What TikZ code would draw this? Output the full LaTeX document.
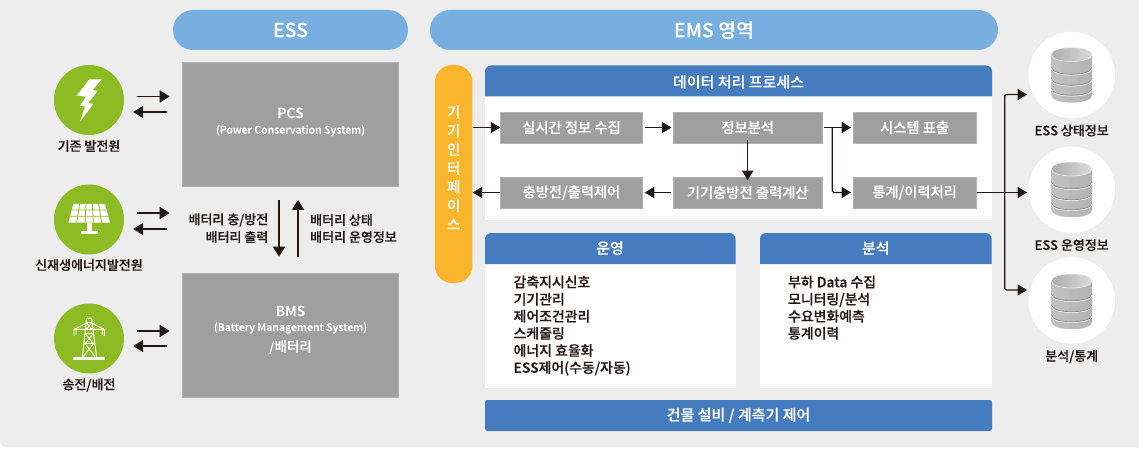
\documentclass[tikz,border=0pt]{standalone}
\usepackage{fontspec}
\setmainfont[FakeBold=0.3]{Noto Sans CJK KR Medium}
\usetikzlibrary{arrows.meta,calc}
\definecolor{pagebg}{HTML}{EDEDED}
\definecolor{pill}{HTML}{76AFE0}
\definecolor{hdr}{HTML}{457BBF}
\definecolor{orangebar}{HTML}{F9B52B}
\definecolor{boxgray}{HTML}{9E9F9E}
\definecolor{green}{HTML}{8CBB24}
\definecolor{ink}{HTML}{231815}
\tikzset{
  txt/.style={inner sep=0pt,font=\fontsize{#1}{#1}\selectfont},
  pillbox/.style={fill=pill,rounded corners=20pt,minimum height=40pt,inner sep=0pt,text=white,font=\fontsize{19.5}{22}\selectfont},
  bigbox/.style={fill=boxgray,draw=boxgray!80!white,line width=.6pt,minimum width=216pt,minimum height=124pt,inner sep=0pt},
  graybox/.style={fill=boxgray,draw=boxgray!80!white,line width=.5pt,minimum height=31pt,inner sep=0pt,text=white,font=\fontsize{14.3}{16}\selectfont},
  gencircle/.style={circle,fill=green,minimum size=70pt,inner sep=0pt},
  dbcircle/.style={circle,fill=white,minimum size=86.5pt,inner sep=0pt},
  hdrtext/.style={inner sep=0pt,text=white,font=\fontsize{15}{17}\selectfont},
  listtext/.style={inner sep=0pt,anchor=north west,align=left,text=ink,font=\fontsize{13.9}{17.1}\selectfont},
  arr/.style={draw=ink,line width=1.6pt,-{Triangle[length=10pt,width=12pt]}},
  arrs/.style={draw=ink,line width=1.4pt,-{Triangle[length=9.5pt,width=11pt]}},
  elbow/.style={draw=ink,line width=1.3pt,rounded corners=1.5pt,-{Triangle[length=9.5pt,width=11pt]}},
  pics/dbcyl/.style={code={
    \shade[left color=black!24,middle color=black!6,right color=black!30]
      (0,7) -- (0,48) .. controls (0,57.5) and (40.6,57.5) .. (40.6,48) -- (40.6,7) -- cycle;
    \foreach \yy in {20,31,41}{
      \draw[black!50,line width=.6pt] (0,\yy) .. controls (0,\yy+9) and (40.6,\yy+9) .. (40.6,\yy);
      \draw[white,line width=.5pt] (0,\yy+.9) .. controls (0,\yy+9.9) and (40.6,\yy+9.9) .. (40.6,\yy+.9);
    }
    \shade[left color=black!32,right color=black!14,draw=black!6,line width=.5pt]
      (0,7) .. controls (0,-2.3) and (40.6,-2.3) .. (40.6,7) .. controls (40.6,16.3) and (0,16.3) .. (0,7) -- cycle;
  }}
}
\begin{document}
\begin{tikzpicture}[x=1pt,y=-1pt]
\useasboundingbox (0,0) rectangle (1139,449);
\fill[white] (0,0) rectangle (1139,449);
\fill[pagebg] (0,0) -- (1139,0) -- (1139,447.5) -- (7,447.5) .. controls (3,447.5) and (0,444.5) .. (0,440.5) -- cycle;

% pills
\node[pillbox,minimum width=235pt] (ess) at (290.5,30) {ESS};
\node[pillbox,minimum width=568pt] (ems) at (714,30) {EMS 영역};

% ESS blocks
\node[bigbox] (pcs) at (290.5,124.5) {};
\node[txt=14,text=white] (pcst) at (290.5,113) {PCS};
\node[txt=10.6,text=white] (pcss) at (290.5,130.5) {(Power Conservation System)};
\node[bigbox] (bms) at (290.5,335) {};
\node[txt=14,text=white] (bmst) at (290.5,311) {BMS};
\node[txt=10.6,text=white] (bmss) at (290.5,328) {(Battery Management System)};
\node[txt=13.5,text=white] (bmsk) at (290.5,347) {/배터리};

% generators
\node[gencircle] (g1) at (89,100) {};
\node[gencircle] (g2) at (89,219.5) {};
\node[gencircle] (g3) at (89,338.5) {};
\node[txt=13,text=ink] (g1t) at (89,146) {기존 발전원};
\node[txt=13,text=ink] (g2t) at (89,265) {신재생에너지발전원};
\node[txt=13,text=ink] (g3t) at (89,385) {송전/배전};

% bolt
\begin{scope}[shift={(50,60)},x=.3333pt,y=-.3333pt]
\fill[white] (118,58) -- (155,58) -- (128,90) -- (143,93) -- (115,128) -- (130,132) -- (90,185) -- (105,140) -- (90,137) -- (108,110) -- (80,107) -- cycle;
\end{scope}
% solar panel
\begin{scope}[shift={(50,180)},x=.3333pt,y=-.3333pt]
\fill[white] (70,72) -- (165,72) -- (180,128) -- (55,128) -- cycle;
\draw[green,line width=.8pt] (66,90) -- (169,90) (60,109) -- (175,109)
  (89,72) -- (80,128) (108,72) -- (105,128) (127,72) -- (130,128) (146,72) -- (155,128);
\fill[white] (110,128) rectangle (125,154);
\fill[white] (92,153) rectangle (143,162);
\end{scope}
% tower
\begin{scope}[shift={(50,300)},x=.3333pt,y=-.3333pt]
\fill[white] (70,172) rectangle (165,180);
\draw[white,line width=.9pt,line join=round]
  (110,55) -- (97,172) (125,55) -- (140,172)
  (110,55) -- (125,55) (109,68) -- (126,68)
  (72,88) -- (163,88) (72,88) -- (108,70) (163,88) -- (127,70)
  (72,88) -- (72,108) (163,88) -- (163,108) (78,88) -- (78,104) (157,88) -- (157,104)
  (105,100) -- (130,100) (105,100) -- (129,130) (130,100) -- (106,130)
  (105,130) -- (131,130) (105,130) -- (135,170) (131,130) -- (100,170)
  (109,68) -- (126,88) (126,68) -- (109,88) (107,88) -- (128,88);
\end{scope}

% generator arrows
\draw[arr] ([shift={(13,-3.5)}]g1.east) -- ([shift={(-12.5,-28)}]pcs.west);
\draw[arr] ([shift={(43,12)}]g1.east) -- ([shift={(9,12)}]g1.east);
\draw[arr] ([shift={(13,-6.5)}]g2.east) -- ([shift={(-12.5,88.5)}]pcs.west);
\draw[arr] ([shift={(43,9.5)}]g2.east) -- ([shift={(9,9.5)}]g2.east);
\draw[arr] ([shift={(13,-7.5)}]g3.east) -- ([shift={(-12.5,-4)}]bms.west);
\draw[arr] ([shift={(43,7.5)}]g3.east) -- ([shift={(9,7.5)}]g3.east);

% PCS <-> BMS
\draw[arr] ([shift={(-11.5,13)}]pcs.south) -- ([shift={(-11.5,-16)}]bms.north);
\draw[arr] ([shift={(7.5,-16)}]bms.north) -- ([shift={(7.5,13)}]pcs.south);
\node[txt=13,text=ink,anchor=east] (l1) at (268.5,220) {배터리 충/방전};
\node[txt=13,text=ink,anchor=east] (l2) at (268.5,237) {배터리 출력};
\node[txt=13,text=ink,anchor=west] (r1) at (310,220) {배터리 상태};
\node[txt=13,text=ink,anchor=west] (r2) at (310,237) {배터리 운영정보};

% orange bar
\node[fill=orangebar,rounded corners=17pt,minimum width=37.5pt,minimum height=218pt,inner sep=0pt] (bar) at (453.7,174) {};
\node[inner sep=0pt,text=white,align=center,font=\fontsize{14.5}{18.7}\selectfont] (bart) at (453.7,167.5) {기\\기\\인\\터\\페\\이\\스};

% data process panel
\fill[white] (485,96) rectangle (992,220);
\fill[hdr] (485,96.5) [rounded corners=6pt] -- (485,65.5) -- (992,65.5) [sharp corners] -- (992,96.5) -- cycle;
\node[hdrtext] (dp) at (738.5,82) {데이터 처리 프로세스};
\node[graybox,minimum width=142pt] (b1) at (571.5,127.5) {실시간 정보 수집};
\node[graybox,minimum width=149pt] (b2) at (747.7,127.5) {정보분석};
\node[graybox,minimum width=123.5pt] (b3) at (914.6,127.5) {시스템 표출};
\node[graybox,minimum width=142pt] (b4) at (571.5,192.5) {충방전/출력제어};
\node[graybox,minimum width=149pt] (b5) at (747.7,192.5) {기기충방전 출력계산};
\node[graybox,minimum width=123.5pt] (b6) at (914.6,192.5) {통계/이력처리};

\draw[arrs] (bar.east |- b1) -- (b1.west);
\draw[arrs] ([xshift=2pt]b1.east) -- ([xshift=-1.5pt]b2.west);
\draw[arrs] ([xshift=1.5pt]b2.east) -- ([xshift=-1.5pt]b3.west);
\draw[elbow] ($(b2.east)+(9.8,0)$) -- ($(b2.east |- b6)+(9.8,0)$) -- ([xshift=-1.5pt]b6.west);
\draw[arrs] ([yshift=3pt]b2.south) -- ([yshift=-3.5pt]b5.north);
\draw[arrs] ([xshift=-1.5pt]b5.west) -- ([xshift=2pt]b4.east);
\draw[arrs] (b4.west) -- (bar.east |- b4);

% DB circles
\node[dbcircle] (d1) at (1071.7,75) {};
\node[dbcircle] (d2) at (1071.7,189.7) {};
\node[dbcircle] (d3) at (1071.7,300.5) {};
\pic at (1051.4,47.5) {dbcyl};
\pic at (1051.4,162) {dbcyl};
\pic at (1051.4,274) {dbcyl};
\node[txt=13,text=ink] (d1t) at (1071.7,130.5) {ESS 상태정보};
\node[txt=13,text=ink] (d2t) at (1071.7,245) {ESS 운영정보};
\node[txt=13,text=ink] (d3t) at (1071.7,356.5) {분석/통계};

\coordinate (trunk) at (1004.7,192.5);
\draw[arrs] (b6.east) -- (trunk) -- ([shift={(-1.2,2.8)}]d2.west);
\draw[elbow] (trunk) -- (1004.7,94.5) -- ([shift={(-1.2,19.5)}]d1.west);
\draw[elbow] (trunk) -- (1004.7,290) -- ([shift={(-1.2,-10.5)}]d3.west);

% operation panels
\fill[white] (485,264) rectangle (735.5,387.7);
\fill[hdr] (485,264) [rounded corners=6pt] -- (485,233) -- (735.5,233) [sharp corners] -- (735.5,264) -- cycle;
\node[hdrtext] (op) at (610,248) {운영};
\node[listtext] (opl) at (513.4,275.5) {감축지시신호\\기기관리\\제어조건관리\\스케줄링\\에너지 효율화\\ESS제어(수동/자동)};
\fill[white] (760,264) rectangle (991.7,387.7);
\fill[hdr] (760,264) [rounded corners=6pt] -- (760,233) -- (991.7,233) [sharp corners] -- (991.7,264) -- cycle;
\node[hdrtext] (an) at (875.8,248) {분석};
\node[listtext] (anl) at (787.9,275.5) {부하 Data 수집\\모니터링/분석\\수요변화예측\\통계이력};

\node[fill=hdr,rounded corners=2.5pt,minimum width=507pt,minimum height=31pt,inner sep=0pt,text=white,font=\fontsize{15}{17}\selectfont] (bld) at (738.5,415.5) {건물 설비 / 계측기 제어};
\end{tikzpicture}
\end{document}
